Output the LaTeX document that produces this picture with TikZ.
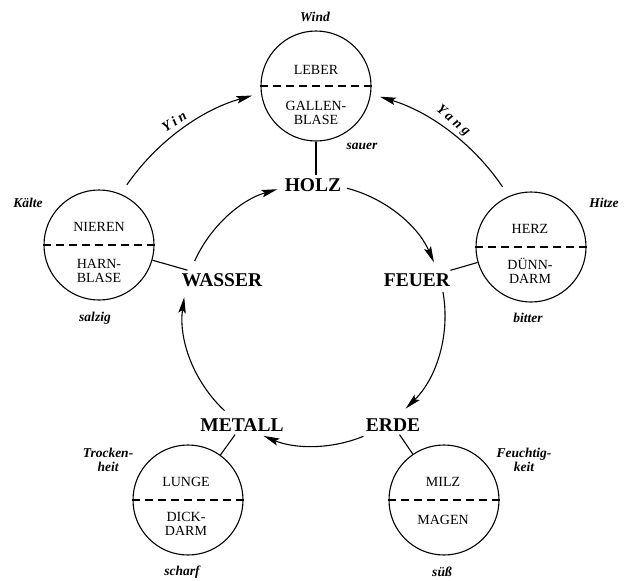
\documentclass[tikz,border=0pt]{standalone}
\usepackage{fontspec}
\setmainfont{Liberation Serif}
\usetikzlibrary{arrows.meta}
\begin{document}
\begin{tikzpicture}[x=1pt,y=-1pt,
  organ/.style={circle,draw,line width=1.1pt,minimum size=110pt,inner sep=0pt},
  otext/.style={font=\fontsize{14}{13.5}\selectfont,align=center,inner sep=0pt},
  elem/.style={font=\fontsize{19.5}{20}\selectfont\bfseries,inner sep=3pt},
  qual/.style={font=\fontsize{13.5}{14.5}\selectfont\bfseries\itshape,align=center,inner sep=0pt},
  spaced/.style={font=\fontsize{14}{15}\selectfont\bfseries\itshape\addfontfeature{LetterSpace=25},inner sep=0pt},
  arr/.style={line width=1.1pt,-{Stealth[length=16pt,width=7.5pt,inset=3pt]}},
  link/.style={line width=1.1pt},
  divider/.style={line width=1.1pt,dash pattern=on 8pt off 5pt}]
\useasboundingbox (0,0) rectangle (624,581);
\fill[white] (0,0) rectangle (624,581);
\coordinate (C) at (314,315);
% organ circles
\node[organ] (leber) at (316,86) {};
\draw[divider] (leber.west) -- (leber.east);
\node[otext] (leberT) at (316,70) {LEBER};
\node[otext] (galle) at (316,113) {GALLEN-\\BLASE};

\node[organ] (nieren) at (99,245) {};
\draw[divider] (nieren.west) -- (nieren.east);
\node[otext] (nierenT) at (99,227) {NIEREN};
\node[otext] (harn) at (99,271) {HARN-\\BLASE};

\node[organ] (herz) at (531,247) {};
\draw[divider] (herz.west) -- (herz.east);
\node[otext] (herzT) at (530,229) {HERZ};
\node[otext] (duenn) at (530,271) {DÜNN-\\DARM};

\node[organ] (lunge) at (188,500) {};
\draw[divider] (lunge.west) -- (lunge.east);
\node[otext] (lungeT) at (186,482) {LUNGE};
\node[otext] (dick) at (186,524) {DICK-\\DARM};

\node[organ] (milz) at (444,500) {};
\draw[divider] (milz.west) -- (milz.east);
\node[otext] (milzT) at (443,482) {MILZ};
\node[otext] (magen) at (443,520) {MAGEN};

% elements
\node[elem] (holz) at (313,185) {HOLZ};
\node[elem] (wasser) at (222,280) {WASSER};
\node[elem] (feuer) at (417,280) {FEUER};
\node[elem] (metall) at (242,425) {METALL};
\node[elem] (erde) at (393,425) {ERDE};

% qualities
\node[qual] (wind) at (315,17) {Wind};
\node[qual] (sauer) at (362,146) {sauer};
\node[qual] (kaelte) at (28,203) {Kälte};
\node[qual] (salzig) at (95,318) {salzig};
\node[qual] (hitze) at (604,203) {Hitze};
\node[qual] (bitter) at (528,318) {bitter};
\node[qual] (trocken) at (108,460) {Trocken-\\heit};
\node[qual] (scharf) at (182,572) {scharf};
\node[qual] (feucht) at (524,460) {Feuchtig-\\keit};
\node[qual] (suess) at (442,572) {süß};

% links organ - element
\draw[link] (leber.south) -- (leber.south |- holz.north);
\draw[link] (nieren) -- (wasser);
\draw[link] (herz) -- (feuer);
\draw[link] (lunge) -- (metall);
\draw[link] (milz) -- (erde);

% inner cycle
\draw[arr] ([shift={(-75.4:131)}]C) arc[start angle=-75.4, end angle=-23.7, radius=131];
\draw[arr] ([shift={(-10.1:131)}]C) arc[start angle=-10.1, end angle=45.6, radius=131];
\draw[arr] ([shift={(67.8:131)}]C) arc[start angle=67.8, end angle=112.7, radius=131];
\draw[arr] ([shift={(133.1:131)}]C) arc[start angle=133.1, end angle=187.8, radius=131];
\draw[arr] ([shift={(204.3:131)}]C) arc[start angle=204.3, end angle=253.8, radius=131];

% Yin / Yang
\draw[arr] ([shift={(214.8:228)}]C) arc[start angle=214.8, end angle=254.3, radius=228];
\draw[arr] ([shift={(-34.2:228)}]C) arc[start angle=-34.2, end angle=-73.2, radius=228];
\node[spaced,rotate=33] (yin) at (174,121) {Yin};
\node[spaced,rotate=-40] (yang) at (453,121) {Yang};
\end{tikzpicture}
\end{document}
